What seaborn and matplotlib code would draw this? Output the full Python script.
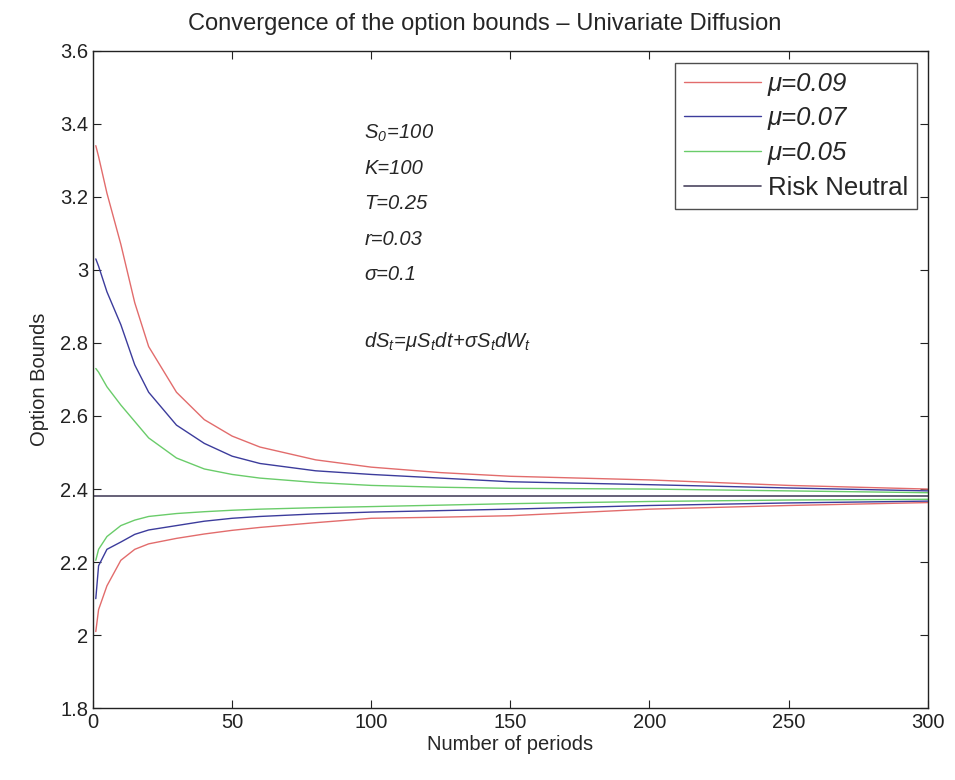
import numpy as np
import pandas as pd
import matplotlib
matplotlib.use("Agg")
import matplotlib.pyplot as plt
import seaborn as sns
from matplotlib.lines import Line2D

# periods at which the bounds are plotted
periods = [1, 2, 5, 10, 15, 20, 30, 40, 50, 60, 80, 100, 125, 150, 200, 250, 300]

# upper bounds
upper_09 = [3.34, 3.31, 3.21, 3.07, 2.91, 2.79, 2.665, 2.59, 2.545, 2.515, 2.48, 2.46, 2.445, 2.435, 2.425, 2.41, 2.40]
upper_07 = [3.03, 3.01, 2.94, 2.85, 2.74, 2.665, 2.575, 2.525, 2.49, 2.47, 2.45, 2.44, 2.43, 2.42, 2.412, 2.403, 2.395]
upper_05 = [2.73, 2.72, 2.68, 2.63, 2.585, 2.54, 2.485, 2.455, 2.44, 2.43, 2.418, 2.41, 2.405, 2.402, 2.40, 2.395, 2.39]

# lower bounds
lower_09 = [2.01, 2.07, 2.135, 2.205, 2.235, 2.25, 2.265, 2.277, 2.287, 2.295, 2.308, 2.32, 2.323, 2.327, 2.345, 2.355, 2.363]
lower_07 = [2.10, 2.19, 2.235, 2.255, 2.276, 2.288, 2.30, 2.312, 2.32, 2.325, 2.332, 2.337, 2.341, 2.345, 2.355, 2.362, 2.367]
lower_05 = [2.205, 2.235, 2.27, 2.30, 2.315, 2.325, 2.333, 2.338, 2.342, 2.345, 2.349, 2.352, 2.356, 2.36, 2.366, 2.37, 2.372]

risk_neutral = 2.38

mu_labels = ["0.09", "0.07", "0.05"]
mu_colors = ["#e26c6c", "#3c3c9c", "#6acc6a"]
rn_color = "#4b4560"

params_text = [r"$S_0\!=\!100$", "K=100", "T=0.25", "r=0.03", "\u03c3=0.1"]
sde_text = r"$dS_t\!=\!\mu S_t dt\!+\!\sigma S_t dW_t$"

sns.set_theme(style="ticks")
plt.rcParams["font.family"] = ["Liberation Sans", "DejaVu Sans"]
plt.rcParams["mathtext.fontset"] = "custom"
plt.rcParams["mathtext.rm"] = "Liberation Sans:italic"
plt.rcParams["mathtext.it"] = "Liberation Sans:italic"
plt.rcParams["mathtext.bf"] = "Liberation Sans:bold"
plt.rcParams["xtick.direction"] = "in"
plt.rcParams["ytick.direction"] = "in"

fig = plt.figure(figsize=(9.55, 7.8), dpi=100)
ax = fig.add_axes([0.0974, 0.092, 0.874, 0.843])

fs = 14.5
for up, lo, col in zip([upper_09, upper_07, upper_05], [lower_09, lower_07, lower_05], mu_colors):
    sns.lineplot(x=periods, y=up, color=col, lw=1.0, ax=ax)
    sns.lineplot(x=periods, y=lo, color=col, lw=1.0, ax=ax)
ax.axhline(risk_neutral, color=rn_color, lw=1.2)

ax.set_xlim(0, 300)
ax.set_ylim(1.8, 3.6)
ax.set_xticks([0, 50, 100, 150, 200, 250, 300])
ax.set_yticks([1.8, 2.0, 2.2, 2.4, 2.6, 2.8, 3.0, 3.2, 3.4, 3.6])
ax.set_yticklabels(["1.8", "2", "2.2", "2.4", "2.6", "2.8", "3", "3.2", "3.4", "3.6"])
ax.tick_params(labelsize=fs, top=True, right=True, length=6, width=0.8, colors="#222222")
for s in ax.spines.values():
    s.set_linewidth(1.0)
    s.set_color("#222222")

ax.set_xlabel("Number of periods", fontsize=fs, labelpad=2)
ax.set_ylabel("Option Bounds", fontsize=fs, labelpad=8)
ax.set_title("Convergence of the option bounds \u2013 Univariate Diffusion", fontsize=17, pad=15, x=0.469)

for i, t in enumerate(params_text):
    ax.text(0.325, 0.875 - i * 0.054, t, transform=ax.transAxes, fontsize=fs,
            va="center", ha="left", style="italic")
ax.text(0.325, 0.558, sde_text, transform=ax.transAxes, fontsize=fs, va="center", ha="left")

handles = [Line2D([], [], color=c, lw=1.0) for c in mu_colors]
handles.append(Line2D([], [], color=rn_color, lw=1.2))
labels = ["\u03bc=" + m for m in mu_labels] + ["Risk Neutral"]
leg = ax.legend(handles, labels, loc="upper right", bbox_to_anchor=(0.987, 0.982), fontsize=18.5,
                frameon=True, fancybox=False, edgecolor="#222222", handlelength=3.0,
                handletextpad=0.25, borderpad=0.35, labelspacing=0.42, borderaxespad=0.0)
leg.get_frame().set_linewidth(1.0)
for txt in leg.get_texts()[:3]:
    txt.set_fontstyle("italic")

fig.savefig("out.png", dpi=100)
